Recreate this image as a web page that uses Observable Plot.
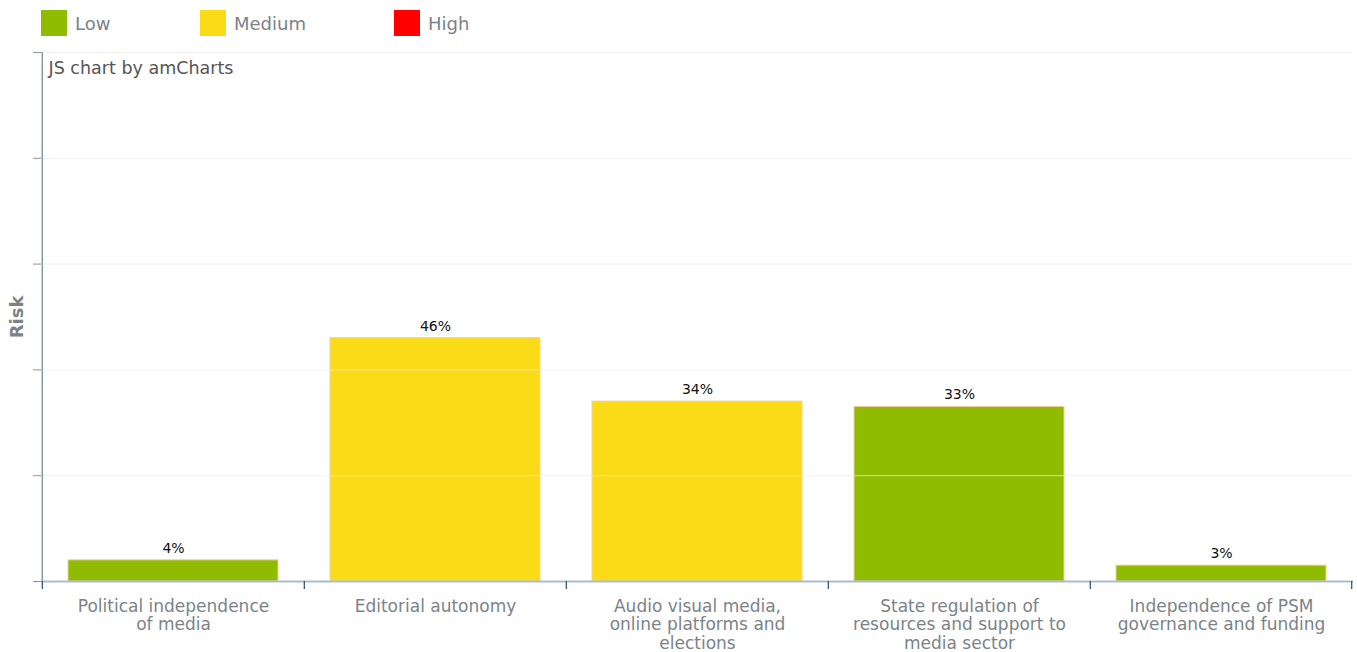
<!DOCTYPE html>
<html>
<head>
<meta charset="utf-8">
<script src="https://cdn.jsdelivr.net/npm/d3@7"></script>
<script src="https://cdn.jsdelivr.net/npm/@observablehq/plot@0.6"></script>
<style>
  html, body { margin: 0; padding: 0; background: #fff; }
  body { width: 1357px; height: 652px; overflow: hidden; font-family: "DejaVu Sans", Verdana, sans-serif; }
  #legend { position: relative; height: 45px; }
  .item { position: absolute; top: 10px; display: flex; align-items: center; }
  .sw { width: 26px; height: 26px; margin-right: 8px; }
  .lab { font-size: 18px; color: #7b8389; }
  #chart svg { display: block; }
</style>
</head>
<body>
<div id="legend"></div>
<div id="chart"></div>
<script>
const categories = [
  "Political independence of media",
  "Editorial autonomy",
  "Audio visual media, online platforms and elections",
  "State regulation of resources and support to media sector",
  "Independence of PSM governance and funding"
];
const tickLabels = [
  "Political independence\nof media",
  "Editorial autonomy",
  "Audio visual media,\nonline platforms and\nelections",
  "State regulation of\nresources and support to\nmedia sector",
  "Independence of PSM\ngovernance and funding"
];
const values = [4, 46, 34, 33, 3];
const risks = ["Low", "Medium", "Medium", "Low", "Low"];
const riskLevels = ["Low", "Medium", "High"];
const riskColors = ["#8fbb00", "#fadb17", "#ff0000"];
const legendX = [41, 200, 394];
const yTicks = [0, 20, 40, 60, 80, 100];
const gridTicks = [20, 40, 60, 80, 100];

const data = categories.map((c, i) => ({category: c, value: values[i], risk: risks[i]}));

// Legend
const legend = document.getElementById("legend");
riskLevels.forEach((r, i) => {
  const it = document.createElement("div");
  it.className = "item";
  it.style.left = legendX[i] + "px";
  it.innerHTML = `<div class="sw" style="background:${riskColors[i]}"></div><span class="lab">${r}</span>`;
  legend.appendChild(it);
});

const W = 1357, H = 607;
const mL = 41, mR = 4;
const step = (W - mL - mR) / categories.length;
const labelMap = new Map(categories.map((c, i) => [c, tickLabels[i]]));

const chart = Plot.plot({
  width: W,
  height: H,
  marginTop: 7,
  marginBottom: 71,
  marginLeft: mL,
  marginRight: mR,
  style: {fontFamily: "'DejaVu Sans', Verdana, sans-serif", background: "#fff"},
  x: {domain: categories, paddingInner: 0.2, paddingOuter: 0.1},
  y: {domain: [0, 100]},
  color: {domain: riskLevels, range: riskColors},
  marks: [
    Plot.barY(data, {x: "category", y: "value", fill: "risk", stroke: "#f3cf9c", strokeWidth: 1}),
    Plot.ruleY(gridTicks, {stroke: "#ececec", strokeOpacity: 0.7}),
    Plot.axisY({ticks: yTicks, tickSize: 8, tickFormat: () => "", stroke: "#8a96a0", label: null}),
    Plot.ruleX([0], {x: () => categories[0], dx: -step / 2, y1: 0, y2: 100, stroke: "#8a96a0", strokeWidth: 1.5}),
    Plot.ruleY([0], {stroke: "#a9bdcb", strokeWidth: 2}),
    Plot.ruleX(categories, {x: d => d, dx: -step / 2, y1: 0, y2: 0, insetBottom: -8, stroke: "#2b4a6a", strokeWidth: 1.2}),
    Plot.ruleX([categories[categories.length - 1]], {x: d => d, dx: step / 2 - 1, y1: 0, y2: 0, insetBottom: -8, stroke: "#2b4a6a", strokeWidth: 1.2}),
    Plot.axisX({tickSize: 0, tickPadding: 17, fontSize: 17, lineHeight: 1.09, fill: "#7b8389", tickFormat: d => labelMap.get(d), label: null}),
    Plot.text(data, {x: "category", y: "value", text: d => d.value + "%", dy: -12, fontSize: 14, fill: "#111"}),
    Plot.text(["Risk"], {frameAnchor: "left", textAnchor: "middle", rotate: -90, dx: -24, fontSize: 18, fontWeight: "bold", fill: "#7b8389"}),
    Plot.text(["JS chart by amCharts"], {frameAnchor: "top-left", dx: 7, dy: 16, fontSize: 17.5, fill: "#555", textAnchor: "start", lineAnchor: "middle"})
  ]
});
document.getElementById("chart").appendChild(chart);
</script>
</body>
</html>
